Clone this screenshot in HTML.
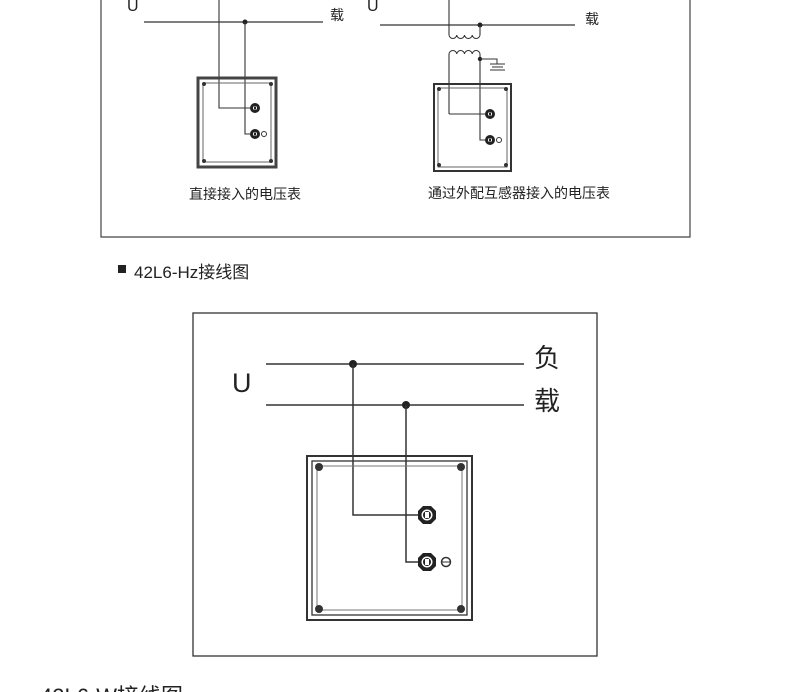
<!DOCTYPE html>
<html><head><meta charset="utf-8"><style>
html,body{margin:0;padding:0;background:#fff;width:790px;height:692px;overflow:hidden}
svg{display:block}
text{font-family:"Liberation Sans","Noto Sans CJK SC",sans-serif;fill:#222}
</style></head><body>
<svg width="790" height="692" viewBox="0 0 790 692" xmlns="http://www.w3.org/2000/svg">
<defs>
<g id="term"><circle r="5" fill="#222"/><circle r="2" fill="#fff"/><rect x="-1" y="-1.5" width="2" height="3" fill="#222"/></g>
<g id="bigterm"><polygon points="-4,-9 4,-9 9,-4 9,4 4,9 -4,9 -9,4 -9,-4" fill="#222"/><circle r="5.5" fill="#fff"/><circle r="4" fill="#222"/><rect x="-2" y="-3" width="4" height="6" fill="#fff"/></g>
</defs>
<!-- top box -->
<polyline points="101,-2 101,237 690,237 690,-2" fill="none" stroke="#444" stroke-width="1.2"/>
<!-- left diagram -->
<text x="127" y="11" font-size="16">U</text>
<text x="330" y="-4" font-size="14">负</text>
<text x="330" y="20" font-size="14">载</text>
<line x1="144" y1="22" x2="323" y2="22" stroke="#333" stroke-width="1.2"/>
<circle cx="245" cy="22" r="2.5" fill="#222"/>
<polyline points="219,-2 219,108 254,108" fill="none" stroke="#333" stroke-width="1.1"/>
<polyline points="245,22 245,134 254,134" fill="none" stroke="#333" stroke-width="1.1"/>
<rect x="198" y="78" width="78" height="89" fill="none" stroke="#444" stroke-width="3"/>
<rect x="203" y="83" width="68" height="79" fill="none" stroke="#666" stroke-width="1"/>
<circle cx="204" cy="84" r="2" fill="#333"/><circle cx="271" cy="84" r="2" fill="#333"/>
<circle cx="204" cy="161" r="2" fill="#333"/><circle cx="271" cy="161" r="2" fill="#333"/>
<use href="#term" x="255" y="108"/><use href="#term" x="255" y="134"/>
<circle cx="264" cy="134" r="2.5" fill="none" stroke="#333"/>
<text x="245" y="199" font-size="14" text-anchor="middle">直接接入的电压表</text>
<!-- right diagram -->
<text x="367" y="11" font-size="16">U</text>
<text x="585" y="-2" font-size="14">负</text>
<text x="585" y="24" font-size="14">载</text>
<line x1="380" y1="25" x2="575" y2="25" stroke="#333" stroke-width="1.2"/>
<circle cx="480" cy="25" r="2.5" fill="#222"/>
<line x1="449" y1="-2" x2="449" y2="35" stroke="#333" stroke-width="1.1"/>
<line x1="480" y1="25" x2="480" y2="35" stroke="#333" stroke-width="1.1"/>
<path d="M449,35 a3.9,4 0 0 0 7.75,0 a3.9,4 0 0 0 7.75,0 a3.9,4 0 0 0 7.75,0 a3.9,4 0 0 0 7.75,0" fill="none" stroke="#333" stroke-width="1"/>
<path d="M449,54 a3.9,4 0 0 1 7.75,0 a3.9,4 0 0 1 7.75,0 a3.9,4 0 0 1 7.75,0 a3.9,4 0 0 1 7.75,0" fill="none" stroke="#333" stroke-width="1"/>
<line x1="449" y1="54" x2="449" y2="114" stroke="#333" stroke-width="1.1"/>
<polyline points="449,114 488,114" fill="none" stroke="#333" stroke-width="1.1"/>
<polyline points="480,54 480,140 488,140" fill="none" stroke="#333" stroke-width="1.1"/>
<circle cx="480" cy="59" r="2.2" fill="#222"/>
<polyline points="480,59 497,59 497,64" fill="none" stroke="#333" stroke-width="1"/>
<line x1="490" y1="64" x2="505" y2="64" stroke="#333"/><line x1="492" y1="67" x2="503" y2="67" stroke="#333"/><line x1="490" y1="70" x2="505" y2="70" stroke="#333"/>
<rect x="434" y="84" width="77" height="87" fill="none" stroke="#333" stroke-width="2"/>
<rect x="438" y="88" width="69" height="79" fill="none" stroke="#666" stroke-width="1"/>
<circle cx="439" cy="89" r="2" fill="#333"/><circle cx="506" cy="89" r="2" fill="#333"/>
<circle cx="439" cy="165" r="2" fill="#333"/><circle cx="506" cy="165" r="2" fill="#333"/>
<use href="#term" x="490" y="114"/><use href="#term" x="490" y="140"/>
<circle cx="499" cy="140" r="2.5" fill="none" stroke="#333"/>
<text x="519" y="198" font-size="14" text-anchor="middle">通过外配互感器接入的电压表</text>
<!-- heading -->
<rect x="118" y="265" width="8" height="8" fill="#222"/>
<text x="134" y="278" font-size="17">42L6-Hz接线图</text>
<!-- bottom box -->
<rect x="193" y="313" width="404" height="343" fill="none" stroke="#333" stroke-width="1.3"/>
<text x="232" y="392" font-size="27">U</text>
<text x="534" y="367" font-size="26">负</text>
<text x="534" y="410" font-size="26">载</text>
<line x1="266" y1="364" x2="524" y2="364" stroke="#333" stroke-width="1.5"/>
<line x1="266" y1="405" x2="524" y2="405" stroke="#333" stroke-width="1.5"/>
<circle cx="353" cy="364" r="4" fill="#222"/><circle cx="406" cy="405" r="4" fill="#222"/>
<polyline points="353,364 353,515 420,515" fill="none" stroke="#333" stroke-width="1.5"/>
<polyline points="406,405 406,562 420,562" fill="none" stroke="#333" stroke-width="1.5"/>
<rect x="307" y="456" width="165" height="164" fill="none" stroke="#333" stroke-width="2"/>
<rect x="312" y="461" width="155" height="154" fill="none" stroke="#333" stroke-width="1.3"/>
<rect x="317" y="466" width="145" height="144" fill="none" stroke="#777" stroke-width="1"/>
<g fill="#333"><circle cx="319" cy="467" r="4"/><circle cx="461" cy="467" r="4"/><circle cx="319" cy="609" r="4"/><circle cx="461" cy="609" r="4"/></g>
<use href="#bigterm" x="427" y="515"/><use href="#bigterm" x="427" y="562"/>
<circle cx="446" cy="562" r="4.5" fill="none" stroke="#333" stroke-width="1.5"/><line x1="442" y1="562" x2="450" y2="562" stroke="#333"/>
<text x="40" y="704" font-size="22">42L6-W接线图</text>
</svg>
</body></html>
